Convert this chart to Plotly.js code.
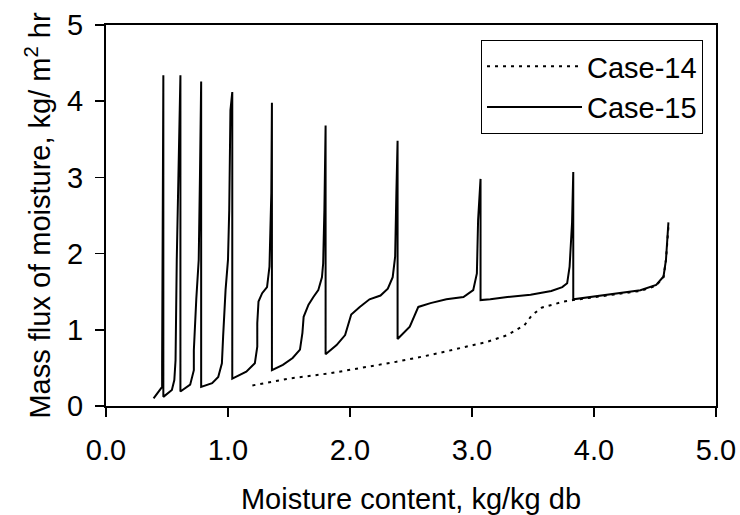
<!DOCTYPE html>
<html>
<head>
<meta charset="utf-8">
<script src="https://cdn.plot.ly/plotly-3.0.1.min.js"></script>
<style>html,body{margin:0;padding:0;background:#fff;}#chart{width:740px;height:515px;}</style>
</head>
<body>
<div id="chart"></div>
<script>
var seriesNames = ["Case-14", "Case-15"];

var case14X = [1.20, 1.50, 1.84, 2.38, 2.66, 2.82, 3.12, 3.29, 3.43, 3.49, 3.57, 3.66, 3.75, 3.83, 4.10, 4.38, 4.51, 4.57, 4.59, 4.60, 4.61];
var case14Y = [0.27, 0.36, 0.43, 0.58, 0.67, 0.73, 0.84, 0.93, 1.06, 1.19, 1.29, 1.33, 1.37, 1.39, 1.45, 1.51, 1.58, 1.69, 1.92, 2.14, 2.35];

var case15X = [0.39, 0.43, 0.46, 0.46, 0.465, 0.47, 0.47,
  0.54, 0.56, 0.57, 0.58, 0.59, 0.60, 0.61, 0.61,
  0.69, 0.72, 0.72, 0.74, 0.76, 0.77, 0.78, 0.78,
  0.87, 0.92, 0.95, 0.96, 0.97, 0.98, 1.00, 1.01, 1.02, 1.035, 1.035,
  1.15, 1.22, 1.24, 1.24, 1.25, 1.28, 1.32, 1.34, 1.355, 1.36, 1.36,
  1.45, 1.53, 1.59, 1.61, 1.62, 1.66, 1.70, 1.74, 1.77, 1.78, 1.79, 1.80, 1.80,
  1.89, 1.96, 2.01, 2.08, 2.16, 2.25, 2.31, 2.35, 2.37, 2.38, 2.39, 2.39,
  2.49, 2.56, 2.66, 2.79, 2.93, 3.01, 3.04, 3.05, 3.07, 3.07,
  3.15, 3.29, 3.48, 3.65, 3.74, 3.78, 3.80, 3.82, 3.83, 3.83,
  4.10, 4.38, 4.51, 4.57, 4.59, 4.60, 4.61];
var case15Y = [0.10, 0.19, 0.25, 0.56, 3.27, 4.34, 0.12,
  0.21, 0.34, 0.60, 1.92, 2.79, 3.66, 4.34, 0.19,
  0.28, 0.47, 0.73, 1.40, 1.92, 3.00, 4.26, 0.25,
  0.30, 0.38, 0.56, 0.91, 1.22, 1.52, 1.92, 2.57, 3.88, 4.12, 0.36,
  0.45, 0.56, 0.78, 1.09, 1.37, 1.48, 1.56, 1.83, 2.79, 3.98, 0.47,
  0.54, 0.63, 0.74, 0.96, 1.17, 1.33, 1.43, 1.52, 1.69, 1.87, 2.57, 3.68, 0.68,
  0.80, 0.93, 1.20, 1.30, 1.40, 1.45, 1.54, 1.69, 1.96, 2.79, 3.48, 0.88,
  1.04, 1.30, 1.35, 1.40, 1.43, 1.52, 1.74, 2.44, 2.98, 1.39,
  1.40, 1.43, 1.46, 1.51, 1.56, 1.61, 1.83, 2.40, 3.07, 1.40,
  1.46, 1.52, 1.59, 1.70, 1.92, 2.14, 2.41];

var xTickVals = [0, 1, 2, 3, 4, 5];
var xTickText = ["0.0", "1.0", "2.0", "3.0", "4.0", "5.0"];
var yTickVals = [0, 1, 2, 3, 4, 5];

var FONT = "Liberation Sans, Arial, sans-serif";

var traces = [
  {x: case14X, y: case14Y, name: seriesNames[0], mode: "lines", type: "scatter",
   line: {color: "#000", width: 2, dash: "3px,5px"}},
  {x: case15X, y: case15Y, name: seriesNames[1], mode: "lines", type: "scatter",
   line: {color: "#000", width: 2}}
];

var layout = {
  width: 740, height: 515,
  margin: {l: 106, r: 24, t: 25, b: 109, pad: 0},
  paper_bgcolor: "#fff", plot_bgcolor: "#fff",
  font: {family: FONT, size: 29, color: "#000"},
  showlegend: true,
  legend: {x: 0.9787, y: 0.9606, xanchor: "right", yanchor: "top",
    bordercolor: "#000", borderwidth: 1, bgcolor: "#fff",
    font: {family: FONT, size: 29, color: "#000"}, itemwidth: 95,
    tracegroupgap: 0},
  xaxis: {range: [0, 5], tickvals: xTickVals, ticktext: xTickText,
    showgrid: false, zeroline: false, showline: true, linecolor: "#000", linewidth: 2,
    mirror: true, ticks: "outside", ticklen: 9, tickwidth: 1.5, tickcolor: "#000",
    ticklabelstandoff: 8,
    tickfont: {family: FONT, size: 29},
    title: {text: "Moisture content, kg/kg db", font: {family: FONT, size: 29}, standoff: 27}},
  yaxis: {range: [0, 5], tickvals: yTickVals,
    showgrid: false, zeroline: false, showline: true, linecolor: "#000", linewidth: 2,
    mirror: true, ticks: "outside", ticklen: 9, tickwidth: 1.5, tickcolor: "#000",
    ticklabelstandoff: 6,
    tickfont: {family: FONT, size: 29},
    title: {text: "Mass flux of moisture, kg/ m<sup>2</sup> hr", font: {family: FONT, size: 29}, standoff: 8}}
};

Plotly.newPlot("chart", traces, layout, {displayModeBar: false, staticPlot: true});
</script>
</body>
</html>
